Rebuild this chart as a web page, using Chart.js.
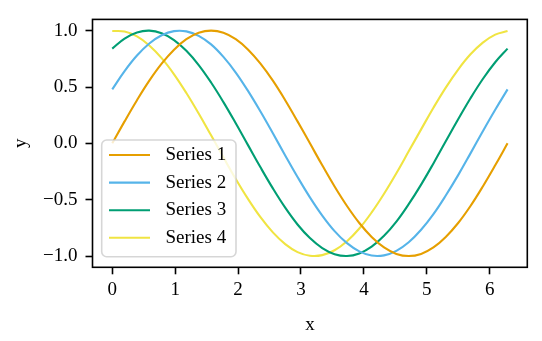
<!DOCTYPE html>
<html>
<head>
<meta charset="utf-8">
<script src="https://cdn.jsdelivr.net/npm/chart.js@4/dist/chart.umd.min.js"></script>
<style>
  html, body { margin: 0; padding: 0; background: #ffffff; }
  #chart { display: block; }
</style>
</head>
<body>
<canvas id="chart" width="542" height="341"></canvas>
<script>
// x positions along the curves (0 .. 2*pi)
const xValues = [0.000, 0.196, 0.393, 0.589, 0.785, 0.982, 1.178, 1.374, 1.571, 1.767, 1.963,
                 2.160, 2.356, 2.553, 2.749, 2.945, 3.142, 3.338, 3.534, 3.731, 3.927, 4.123,
                 4.320, 4.516, 4.712, 4.909, 5.105, 5.301, 5.498, 5.694, 5.890, 6.087, 6.283];

// values
const series1 = [0.000, 0.195, 0.383, 0.556, 0.707, 0.831, 0.924, 0.981, 1.000, 0.981, 0.924,
                 0.831, 0.707, 0.556, 0.383, 0.195, 0.000, -0.195, -0.383, -0.556, -0.707, -0.831,
                 -0.924, -0.981, -1.000, -0.981, -0.924, -0.831, -0.707, -0.556, -0.383, -0.195, 0.000];
const series2 = [0.479, 0.641, 0.779, 0.886, 0.959, 0.996, 0.994, 0.954, 0.878, 0.767, 0.628,
                 0.463, 0.282, 0.089, -0.107, -0.298, -0.479, -0.641, -0.779, -0.886, -0.959, -0.996,
                 -0.994, -0.954, -0.878, -0.767, -0.628, -0.463, -0.282, -0.089, 0.107, 0.298, 0.479];
const series3 = [0.841, 0.930, 0.984, 1.000, 0.977, 0.917, 0.821, 0.695, 0.540, 0.366, 0.178,
                 -0.018, -0.213, -0.400, -0.571, -0.720, -0.841, -0.930, -0.984, -1.000, -0.977, -0.917,
                 -0.821, -0.695, -0.540, -0.366, -0.178, 0.018, 0.213, 0.400, 0.571, 0.720, 0.841];
const series4 = [0.997, 0.992, 0.949, 0.869, 0.756, 0.613, 0.447, 0.265, 0.071, -0.124, -0.316,
                 -0.495, -0.655, -0.790, -0.894, -0.965, -0.997, -0.992, -0.949, -0.869, -0.756, -0.613,
                 -0.447, -0.265, -0.071, 0.124, 0.316, 0.495, 0.655, 0.790, 0.894, 0.965, 0.997];

const seriesNames = ['Series 1', 'Series 2', 'Series 3', 'Series 4'];
const seriesColors = ['#E69F00', '#56B4E9', '#009E73', '#F0E442'];

const xTicks = [0, 1, 2, 3, 4, 5, 6];
const yTicks = [-1.0, -0.5, 0.0, 0.5, 1.0];

const FONT = "'Liberation Serif', 'Times New Roman', serif";
const FONT_SIZE = 19;

const allSeries = [series1, series2, series3, series4];

const datasets = allSeries.map((values, i) => ({
    label: seriesNames[i],
    data: xValues.map((x, j) => ({ x: x, y: values[j] })),
    borderColor: seriesColors[i],
    backgroundColor: seriesColors[i],
    borderWidth: 2.1,
    pointRadius: 0,
    fill: false,
    tension: 0.4
}));

// draws the axes box and the legend the way matplotlib does
const framePlugin = {
    id: 'frameAndLegend',
    afterDatasetsDraw(chart) {
        const { ctx, chartArea } = chart;
        ctx.save();
        ctx.strokeStyle = '#000000';
        ctx.lineWidth = 1.6;
        ctx.strokeRect(chartArea.left, chartArea.top,
                       chartArea.right - chartArea.left, chartArea.bottom - chartArea.top);

        // legend box
        const bx = 101.7, by = 140, bw = 134.3, bh = 116.7, r = 5;
        ctx.beginPath();
        ctx.roundRect(bx, by, bw, bh, r);
        ctx.fillStyle = 'rgba(255,255,255,0.8)';
        ctx.fill();
        ctx.strokeStyle = 'rgba(204,204,204,0.8)';
        ctx.lineWidth = 1.6;
        ctx.stroke();

        ctx.font = FONT_SIZE + 'px ' + FONT;
        ctx.textAlign = 'left';
        ctx.textBaseline = 'middle';
        seriesNames.forEach((name, i) => {
            const rowY = 155 + i * 27.6;
            ctx.beginPath();
            ctx.moveTo(109, rowY);
            ctx.lineTo(150, rowY);
            ctx.strokeStyle = seriesColors[i];
            ctx.lineWidth = 2.1;
            ctx.stroke();
            ctx.fillStyle = '#000000';
            ctx.fillText(name, 165.5, rowY);
        });
        ctx.restore();
    }
};

new Chart(document.getElementById('chart'), {
    type: 'line',
    data: { datasets: datasets },
    options: {
        responsive: false,
        animation: false,
        devicePixelRatio: 1,
        layout: { padding: { top: 15.3, right: 14.7, left: 0, bottom: 0 } },
        plugins: {
            legend: { display: false },
            tooltip: { enabled: false }
        },
        scales: {
            x: {
                type: 'linear',
                min: -0.314,
                max: 6.597,
                afterBuildTicks: (scale) => { scale.ticks = xTicks.map(v => ({ value: v })); },
                afterFit: (scale) => { scale.height = 341 - 267.3; },
                ticks: {
                    color: '#000000',
                    padding: 4,
                    font: { family: FONT, size: FONT_SIZE },
                    callback: (value) => String(value)
                },
                grid: {
                    drawOnChartArea: false,
                    drawTicks: true,
                    tickLength: 7,
                    tickWidth: 1.6,
                    tickColor: '#000000'
                },
                border: { display: false },
                title: {
                    display: true,
                    text: 'x',
                    color: '#000000',
                    font: { family: FONT, size: FONT_SIZE },
                    padding: { top: 0, bottom: 4.5 }
                }
            },
            y: {
                type: 'linear',
                min: -1.1,
                max: 1.1,
                afterBuildTicks: (scale) => { scale.ticks = yTicks.map(v => ({ value: v })); },
                afterFit: (scale) => { scale.width = 92.5; },
                ticks: {
                    color: '#000000',
                    padding: 8,
                    font: { family: FONT, size: FONT_SIZE },
                    callback: (value) => (value < 0 ? '\u2212' : '') + Math.abs(value).toFixed(1)
                },
                grid: {
                    drawOnChartArea: false,
                    drawTicks: true,
                    tickLength: 7,
                    tickWidth: 1.6,
                    tickColor: '#000000'
                },
                border: { display: false },
                title: {
                    display: true,
                    text: 'y',
                    color: '#000000',
                    font: { family: FONT, size: FONT_SIZE },
                    padding: { top: 9.5, bottom: 0 }
                }
            }
        }
    },
    plugins: [framePlugin]
});
</script>
</body>
</html>
